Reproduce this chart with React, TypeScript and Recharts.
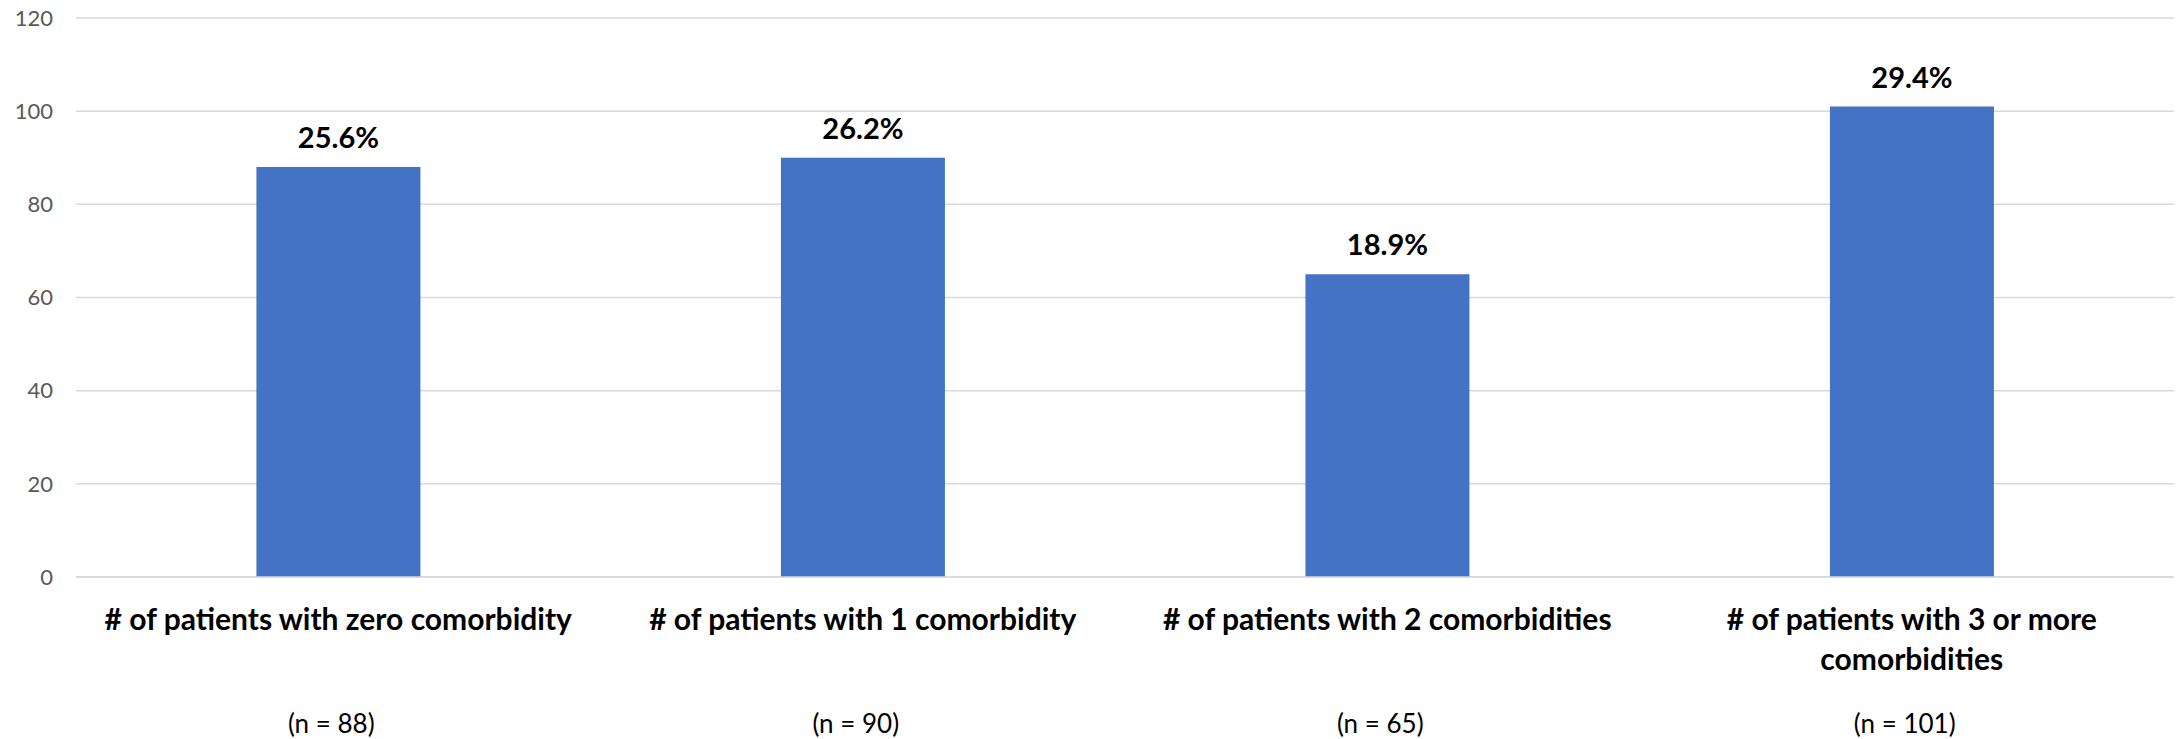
import { Bar, BarChart, CartesianGrid, LabelList, XAxis, YAxis } from "recharts";

const categories = [
  "# of patients with zero comorbidity",
  "# of patients with 1 comorbidity",
  "# of patients with 2 comorbidities",
  "# of patients with 3 or more comorbidities",
];
const categoryLines = [
  ["# of patients with zero comorbidity"],
  ["# of patients with 1 comorbidity"],
  ["# of patients with 2 comorbidities"],
  ["# of patients with 3 or more", "comorbidities"],
];
const patients = [88, 90, 65, 101];
const shares = ["25.6%", "26.2%", "18.9%", "29.4%"];
const nLabels = ["(n = 88)", "(n = 90)", "(n = 65)", "(n = 101)"];
const yTicks = [0, 20, 40, 60, 80, 100, 120];

const data = categories.map((c, i) => ({ category: c, patients: patients[i], share: shares[i] }));

const FONT = "Lato, 'Open Sans', sans-serif";

function CategoryTick(props: any) {
  const { x, y, index } = props;
  const lines = categoryLines[index] || [];
  return (
    <g>
      {lines.map((line, i) => (
        <text key={i} x={x} y={y + 53 + i * 40} textAnchor="middle" fill="#000" fontFamily={FONT} fontWeight={700} fontSize={30}>
          {line}
        </text>
      ))}
      <text x={x - 7} y={y + 156} textAnchor="middle" fill="#000" fontFamily={FONT} fontSize={26}>
        {nLabels[index]}
      </text>
    </g>
  );
}

function ShareLabel(props: any) {
  const { x, y, width, value } = props;
  return (
    <text x={x + width / 2} y={y - 19} textAnchor="middle" fill="#000" fontFamily={FONT} fontWeight={700} fontSize={29}>
      {value}
    </text>
  );
}

export default function App() {
  return (
    <div style={{ position: "absolute", left: 0, top: 0, background: "#fff" }}>
      <BarChart width={2178} height={739} data={data} margin={{ top: 18, right: 4, left: 0, bottom: 0 }} barCategoryGap="34.4%">
        <CartesianGrid vertical={false} stroke="#d9d9d9" strokeWidth={1.5} />
        <XAxis
          dataKey="category"
          height={162}
          interval={0}
          tickLine={false}
          tickSize={0}
          tickMargin={0}
          axisLine={{ stroke: "#d9d9d9", strokeWidth: 1.5 }}
          tick={<CategoryTick />}
        />
        <YAxis
          domain={[0, 120]}
          ticks={yTicks}
          width={76}
          tickLine={false}
          tickSize={0}
          tickMargin={23}
          axisLine={false}
          tick={{ fill: "#595959", fontSize: 22, fontFamily: FONT }}
        />
        <Bar dataKey="patients" fill="#4472c4" isAnimationActive={false}>
          <LabelList dataKey="share" content={<ShareLabel />} />
        </Bar>
      </BarChart>
    </div>
  );
}
